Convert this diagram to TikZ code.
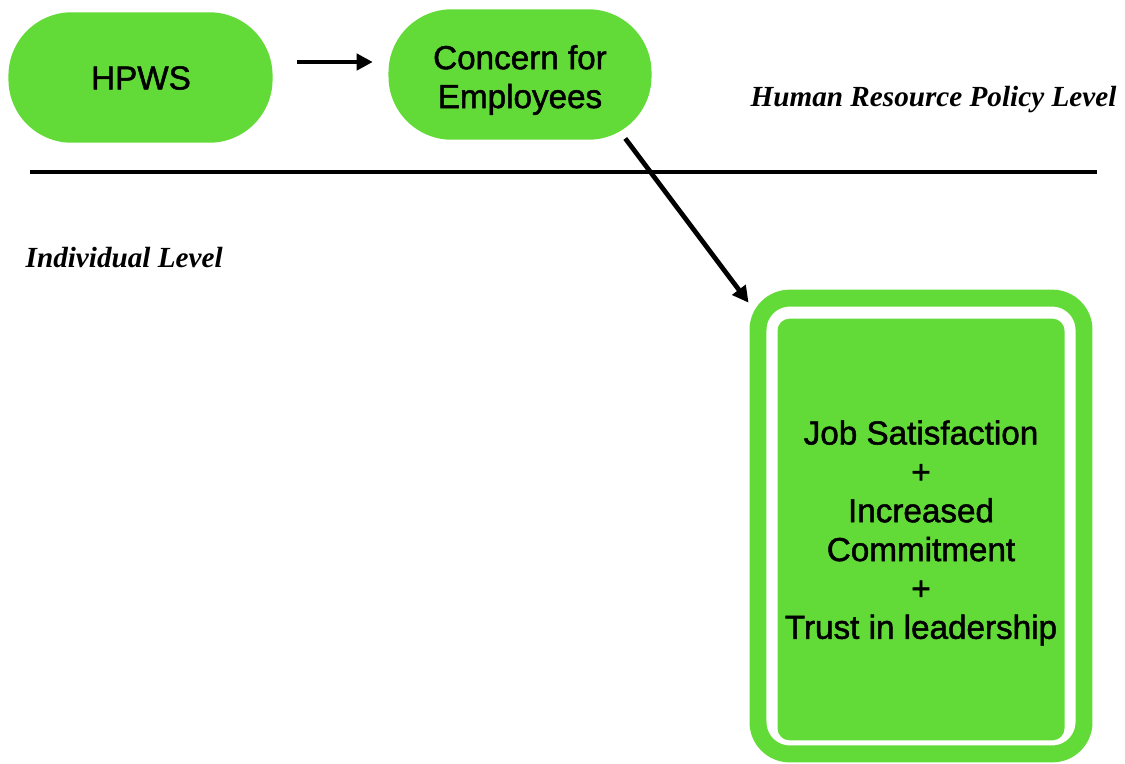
\documentclass[tikz,border=0pt]{standalone}
\usepackage{fontspec}
\setmainfont{Liberation Serif}
\setsansfont[FakeBold=1.5]{Liberation Sans}
\usetikzlibrary{arrows.meta, calc}
\definecolor{hrgreen}{HTML}{62DB38}

\begin{document}
\begin{tikzpicture}[x=0.01cm, y=-0.01cm,
    box/.style={fill=hrgreen, rounded corners=18pt, inner sep=0pt},
    boxtext/.style={align=center, inner sep=0pt, font=\sffamily\fontsize{9.45}{11.05}\selectfont},
    link/.style={-{Triangle[length=4.6pt, width=4.6pt]}, line width=1.35pt},
    level/.style={font=\bfseries\itshape\fontsize{8.3}{10}\selectfont, inner sep=0pt}]
    % Units: 1 = one pixel of the 1125 x 763 frame, y runs downwards.
    \useasboundingbox (0,0) rectangle (1125,763);

    % Policy level boxes
    \node[box, minimum width=75.1pt, minimum height=37.1pt] (hpws) at (140.5,77.5) {};
    \node[boxtext] (hpwstext) at (141,78) {HPWS};
    \node[box, minimum width=74.8pt, minimum height=37.1pt] (concern) at (520,74.5) {};
    \node[boxtext] (concerntext) at (520,80) {Concern for\\Employees};

    % Outcome box: green ring, white gap, green body
    \node[draw=hrgreen, line width=4.82pt, rounded corners=9pt, minimum width=92.7pt, minimum height=129.6pt] (ring) at (921,526) {};
    \node[box, rounded corners=3.4pt, minimum width=81.6pt, minimum height=119.9pt] (outcome) at (921,529.5) {};
    \node[boxtext] (outcometext) at (921,533)
        {Job Satisfaction\\+\\Increased\\Commitment\\+\\Trust in leadership};

    % Level divider and labels
    \draw[line width=1.4pt] (30,172) -- (1097,172);
    \node[level, anchor=base east] (hrlevel) at (1117,106) {Human Resource Policy Level};
    \node[level, anchor=base west] (indlevel) at (25,267) {Individual Level};

    % Links
    \draw[link] ([shift={(24,-15.5)}]hpws.east) -- ([shift={(-15,-12.5)}]concern.west);
    \draw[link] ([shift={(-27,-2)}]concern.south east) -- ([shift={(-1,13)}]ring.north west);
\end{tikzpicture}
\end{document}
